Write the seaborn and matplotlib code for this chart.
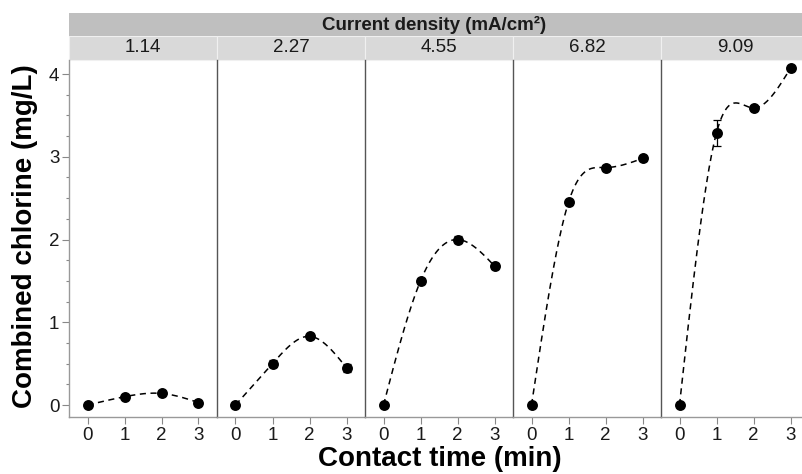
import numpy as np
import pandas as pd
import seaborn as sns
import matplotlib.pyplot as plt
import matplotlib.ticker as mticker
from matplotlib.patches import Rectangle

# Data
densities = ["1.14", "2.27", "4.55", "6.82", "9.09"]
times = [0, 1, 2, 3]

cl_114 = [0.00, 0.10, 0.14, 0.03]
cl_227 = [0.00, 0.50, 0.83, 0.45]
cl_455 = [0.00, 1.50, 2.00, 1.68]
cl_682 = [0.00, 2.45, 2.87, 2.98]
cl_909 = [0.00, 3.29, 3.59, 4.07]

sd_114 = [0.01, 0.02, 0.02, 0.01]
sd_227 = [0.01, 0.04, 0.03, 0.05]
sd_455 = [0.01, 0.04, 0.04, 0.04]
sd_682 = [0.01, 0.03, 0.03, 0.03]
sd_909 = [0.01, 0.16, 0.03, 0.02]

means = [cl_114, cl_227, cl_455, cl_682, cl_909]
sds = [sd_114, sd_227, sd_455, sd_682, sd_909]

df = pd.DataFrame({
    "density": np.repeat(densities, len(times)),
    "time": times * len(densities),
    "chlorine": np.concatenate(means),
    "sd": np.concatenate(sds),
})


def natural_spline(x, y, xs):
    # plain natural cubic spline, numpy only
    x = np.asarray(x, float)
    y = np.asarray(y, float)
    n = len(x)
    h = np.diff(x)
    A = np.zeros((n, n))
    r = np.zeros(n)
    A[0, 0] = A[-1, -1] = 1
    for i in range(1, n - 1):
        A[i, i - 1] = h[i - 1]
        A[i, i] = 2 * (h[i - 1] + h[i])
        A[i, i + 1] = h[i]
        r[i] = 6 * ((y[i + 1] - y[i]) / h[i] - (y[i] - y[i - 1]) / h[i - 1])
    M = np.linalg.solve(A, r)
    idx = np.clip(np.searchsorted(x, xs) - 1, 0, n - 2)
    x0, x1 = x[idx], x[idx + 1]
    hh = x1 - x0
    a = (x1 - xs) / hh
    b = (xs - x0) / hh
    return a * y[idx] + b * y[idx + 1] + ((a**3 - a) * M[idx] + (b**3 - b) * M[idx + 1]) * hh**2 / 6


def draw_panel(data, **kws):
    ax = plt.gca()
    xs = np.linspace(0, 3, 200)
    ys = natural_spline(data["time"], data["chlorine"], xs)
    sns.lineplot(x=xs, y=ys, ax=ax, color="black", lw=1.1,
                 linestyle=(0, (4, 3)), estimator=None, sort=False)
    ax.errorbar(data["time"], data["chlorine"], yerr=data["sd"], fmt="none",
                ecolor="black", elinewidth=0.9, capsize=3.2, capthick=0.9, zorder=2)
    sns.scatterplot(x=data["time"], y=data["chlorine"], ax=ax, color="black",
                    s=62, linewidth=0, zorder=3)


sns.set_theme(style="white")
plt.rcParams["font.family"] = ["Liberation Sans", "DejaVu Sans"]

g = sns.FacetGrid(df, col="density", col_order=densities, sharey=True, sharex=True,
                  height=3, aspect=0.5, despine=False)
g.map_dataframe(draw_panel)
fig = g.figure
fig.set_size_inches(8.02, 4.74)
fig.subplots_adjust(left=69 / 802, right=809 / 802, top=1 - 60 / 474,
                    bottom=1 - 417 / 474, wspace=0)
g.set_titles("")

strip_h = 24 / 357
for i, ax in enumerate(g.axes.flat):
    ax.set_xlim(-0.5, 3.5)
    ax.set_ylim(-0.145, 4.17)
    ax.set_xlabel("")
    ax.set_ylabel("")
    ax.set_xticks(times)
    ax.yaxis.set_major_locator(mticker.MultipleLocator(1))
    ax.yaxis.set_minor_locator(mticker.MultipleLocator(0.25))
    ax.tick_params(axis="x", which="major", direction="out", length=5, width=0.8,
                   color="#888888", labelsize=13.5, labelcolor="#1a1a1a", pad=2.5, bottom=True)
    ax.tick_params(axis="y", which="major", direction="out", length=5, width=0.8,
                   color="#888888", labelsize=13.5, labelcolor="#1a1a1a", pad=2, left=(i == 0))
    ax.tick_params(axis="y", which="minor", direction="out", length=2.5, width=0.8,
                   color="#888888", left=(i == 0))
    if i > 0:
        ax.tick_params(axis="y", which="both", labelleft=False, left=False)
    for s in ["top", "right"]:
        ax.spines[s].set_visible(False)
    ax.spines["bottom"].set_color("#999999")
    ax.spines["bottom"].set_linewidth(1.0)
    ax.spines["left"].set_color("#999999" if i == 0 else "#555555")
    ax.spines["left"].set_linewidth(1.0)
    ax.grid(False)

    # per-panel strip
    ax.add_patch(Rectangle((0, 1), 1, strip_h, transform=ax.transAxes, clip_on=False,
                           facecolor="#d9d9d9", edgecolor="#f0f0f0", lw=0.8))
    ax.text(0.5, 1 + strip_h / 2, densities[i], transform=ax.transAxes,
            ha="center", va="center", fontsize=13.5, color="#1a1a1a")

# top header strip
fig.add_artist(Rectangle((69 / 802, 1 - 36 / 474), 1, 23 / 474, transform=fig.transFigure,
                         facecolor="#bfbfbf", edgecolor="none"))
fig.text((69 + 800) / 2 / 802, 1 - 24.5 / 474, "Current density (mA/cm²)",
         ha="center", va="center", fontsize=13.5, fontweight="bold", color="#1a1a1a")

fig.text(440 / 802, 1 - 459 / 474, "Contact time (min)", ha="center", va="center",
         fontsize=20, fontweight="bold", color="black")
fig.text(25 / 802, 1 - 236 / 474, "Combined chlorine (mg/L)", ha="center", va="center",
         rotation=90, fontsize=20, fontweight="bold", color="black")

fig.savefig("out.png", dpi=100)
